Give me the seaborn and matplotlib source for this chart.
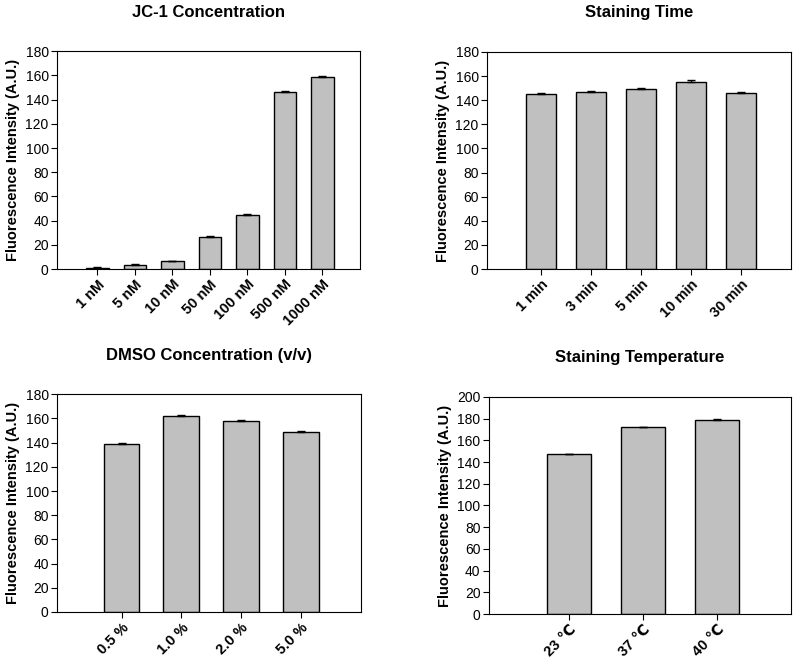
import numpy as np
import pandas as pd
import matplotlib
matplotlib.use('Agg')
import matplotlib.pyplot as plt
import seaborn as sns

# data
jc1_labels = ['1 nM', '5 nM', '10 nM', '50 nM', '100 nM', '500 nM', '1000 nM']
jc1_values = [1.0, 3.5, 6.5, 26.5, 45.0, 146.5, 159.0]
jc1_err = [0.3, 0.3, 0.3, 0.4, 0.3, 0.8, 0.6]

time_labels = ['1 min', '3 min', '5 min', '10 min', '30 min']
time_values = [145.0, 146.5, 149.0, 155.0, 146.0]
time_err = [0.8, 0.7, 0.8, 1.5, 0.7]

dmso_labels = ['0.5 %', '1.0 %', '2.0 %', '5.0 %']
dmso_values = [139.0, 162.0, 158.0, 149.0]
dmso_err = [0.7, 0.7, 0.7, 0.7]

temp_labels = ['23 \u2103', '37 \u2103', '40 \u2103']
temp_values = [147.0, 172.0, 179.0]
temp_err = [0.8, 0.7, 0.7]

sns.set_style('ticks')
plt.rcParams['font.family'] = ['Liberation Sans', 'DejaVu Sans', 'Noto Sans CJK SC']
plt.rcParams['axes.linewidth'] = 0.8
plt.rcParams['text.color'] = 'black'
plt.rcParams['axes.labelcolor'] = 'black'
plt.rcParams['xtick.color'] = 'black'
plt.rcParams['ytick.color'] = 'black'

fig = plt.figure(figsize=(8.08, 6.72), dpi=100)

panels = [
    ('JC-1 Concentration', jc1_labels, jc1_values, jc1_err, 180, [0.0705, 0.5997, 0.375, 0.324]),
    ('Staining Time', time_labels, time_values, time_err, 180, [0.6027, 0.5997, 0.376, 0.323]),
    ('DMSO Concentration (v/v)', dmso_labels, dmso_values, dmso_err, 180, [0.0705, 0.0893, 0.376, 0.324]),
    ('Staining Temperature', temp_labels, temp_values, temp_err, 200, [0.605, 0.0863, 0.374, 0.323]),
]

for title, labels, values, err, ymax, rect in panels:
    ax = fig.add_axes(rect)
    df = pd.DataFrame({'cond': labels, 'val': values})
    sns.barplot(data=df, x='cond', y='val', order=labels, color='#c0c0c0',
                saturation=1, width=0.6, edgecolor='black', linewidth=1,
                errorbar=None, ax=ax)
    xs = np.arange(len(labels))
    ax.errorbar(xs, values, yerr=[np.zeros(len(err)), err], fmt='none',
                ecolor='black', elinewidth=1, capsize=3, capthick=1)
    ax.set_xlim(-1.08, len(labels))
    ax.set_ylim(0, ymax)
    ax.set_yticks(np.arange(0, ymax + 1, 20))
    ax.set_title(title, fontsize=12, fontweight='bold', pad=25)
    ax.set_xlabel('')
    ax.set_ylabel('Fluorescence Intensity (A.U.)', fontsize=10.5, fontweight='bold', labelpad=4)
    ax.tick_params(axis='y', labelsize=10, length=4, width=0.8, direction='out', pad=2)
    ax.tick_params(axis='x', length=4, width=0.8, direction='out', pad=2)
    ax.set_xticks(xs)
    ax.set_xticklabels(labels, rotation=45, ha='right', rotation_mode='anchor',
                       fontsize=10.5, fontweight='bold')
    for sp in ax.spines.values():
        sp.set_visible(True)
        sp.set_color('black')

fig.savefig('out.png', dpi=100)
